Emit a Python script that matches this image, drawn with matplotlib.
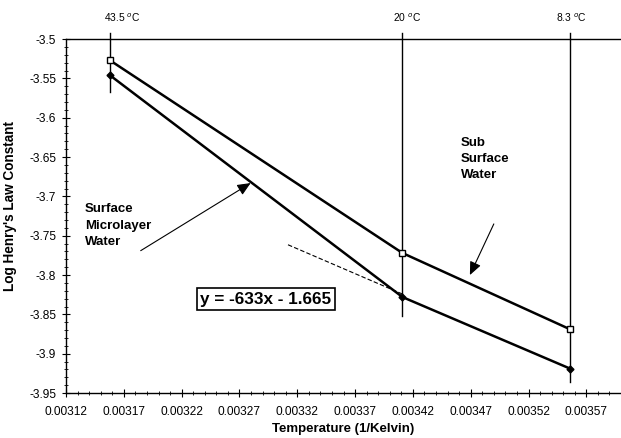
import matplotlib
matplotlib.use("Agg")
import matplotlib.pyplot as plt
from matplotlib.ticker import MultipleLocator, FixedLocator

plt.rcParams['font.family'] = ['Liberation Sans', 'DejaVu Sans']

# Inverse temperature (1/K) for the three sampling temperatures
inv_temp = [0.003158, 0.003411, 0.003556]
temp_labels = ["43.5 $^{o}$C", "20 $^{o}$C", "8.3 $^{o}$C"]
temp_label_x = [0.003169, 0.003415, 0.003557]

# Log Henry's law constants
sub_surface = [-3.527, -3.772, -3.869]
microlayer = [-3.546, -3.828, -3.919]

# Regression line for the microlayer over the cooler range
slope, intercept = -633, -1.665
fit_x = [0.003312, 0.003411]

# Vertical extents of the temperature guide lines
guide_bottom = [-3.567, -3.852, -3.936]
guide_top = -3.492

x_ticks = [0.00312, 0.00317, 0.00322, 0.00327, 0.00332, 0.00337,
           0.00342, 0.00347, 0.00352, 0.00357]

fig = plt.figure(figsize=(6.21, 4.38), dpi=100)
ax = fig.add_axes([0.1063, 0.1027, 0.8937, 0.808])

ax.set_xlim(0.00312, 0.0036)
ax.set_ylim(-3.95, -3.5)

# Guide lines at each temperature
for x, yb in zip(inv_temp, guide_bottom):
    ax.plot([x, x], [yb, guide_top], color='black', lw=1.0, clip_on=False)
for x, lab in zip(temp_label_x, temp_labels):
    ax.text(x, -3.481, lab, ha='center', va='bottom', fontsize=7.4,
            clip_on=False)

ax.plot(inv_temp, sub_surface, color='black', lw=1.8, marker='s',
        markersize=4, markerfacecolor='white', markeredgewidth=1.0)
ax.plot(inv_temp, microlayer, color='black', lw=1.8, marker='D',
        markersize=3.5, markerfacecolor='black')

fit_y = [slope * x + intercept for x in fit_x]
ax.plot(fit_x, fit_y, color='black', lw=0.8, ls=(0, (4, 2)))

ax.text(0.0032926, -3.8305, "y = -633x - 1.665", fontsize=12.3,
        fontweight='bold', ha='center', va='center',
        bbox=dict(boxstyle='square,pad=0.2', fc='white', ec='black', lw=1.2))

ax.text(0.0031364, -3.709, "Surface\nMicrolayer\nWater", fontsize=9.5,
        fontweight='bold', ha='left', va='top', linespacing=1.45)
ax.text(0.0034617, -3.624, "Sub\nSurface\nWater", fontsize=9.5,
        fontweight='bold', ha='left', va='top', linespacing=1.45)

ax.annotate("", xy=(0.0032797, -3.683), xytext=(0.0031846, -3.769),
            arrowprops=dict(arrowstyle='-|>,head_length=0.8,head_width=0.35',
                            color='black', lw=0.8, shrinkA=0, shrinkB=0))
ax.annotate("", xy=(0.0034693, -3.800), xytext=(0.0034900, -3.735),
            arrowprops=dict(arrowstyle='-|>,head_length=0.8,head_width=0.35',
                            color='black', lw=0.8, shrinkA=0, shrinkB=0))

ax.xaxis.set_major_locator(FixedLocator(x_ticks))
ax.xaxis.set_minor_locator(MultipleLocator(0.00001))
ax.yaxis.set_major_locator(MultipleLocator(0.05))
ax.yaxis.set_minor_locator(MultipleLocator(0.01))
ax.set_xticklabels([f"{v:.5f}" for v in x_ticks])
ax.set_yticklabels([f"{v:g}" for v in ax.get_yticks()])

ax.tick_params(axis='both', which='major', direction='inout', length=6,
               width=0.8, labelsize=8.6)
ax.tick_params(axis='x', which='major', pad=6)
ax.tick_params(axis='y', which='major', pad=4)
ax.tick_params(axis='both', which='minor', direction='inout', length=3,
               width=0.6)

ax.spines['right'].set_visible(False)
for s in ('left', 'bottom', 'top'):
    ax.spines[s].set_linewidth(1.0)

ax.set_xlabel("Temperature (1/Kelvin)", fontsize=9.5, fontweight='bold')
ax.set_ylabel("Log Henry's Law Constant", fontsize=9.8, fontweight='bold')
ax.xaxis.set_label_coords((343 - 66) / 555, -(423 - 393) / 354)
ax.yaxis.set_label_coords(-(66 - 17) / 555, (393 - 206) / 354)

fig.savefig("out.png", dpi=100)
